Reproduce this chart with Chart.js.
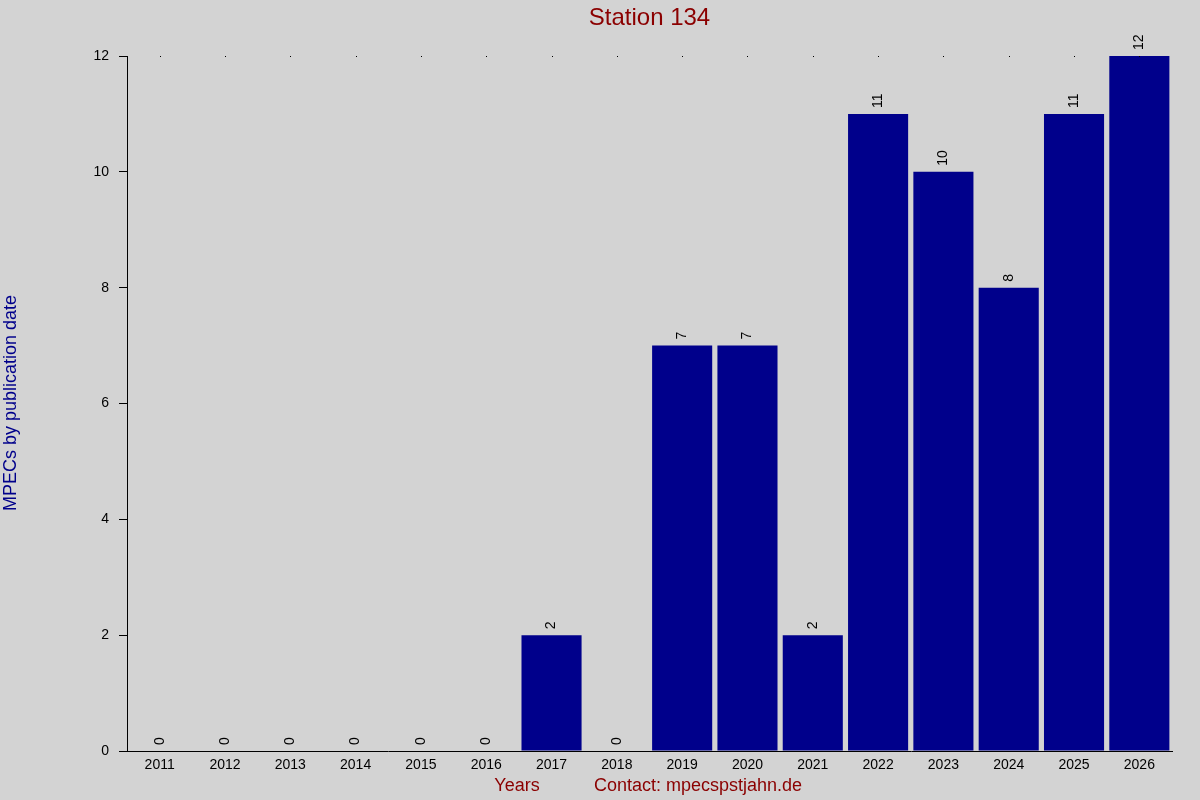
<!DOCTYPE html>
<html><head><style>html,body{margin:0;background:#d3d3d3}</style>
<script src="https://cdn.jsdelivr.net/npm/chart.js@4/dist/chart.umd.min.js"></script></head>
<body><div style="width:1200px;height:800px"><canvas id="c"></canvas></div>
<script>
const years=["2011","2012","2013","2014","2015","2016","2017","2018","2019","2020","2021","2022","2023","2024","2025","2026"];
const counts=[0,0,0,0,0,0,2,0,7,7,2,11,10,8,11,12];
const yTicks=[0,2,4,6,8,10,12];
const F='"Liberation Sans", Arial, sans-serif';
const deco={id:'deco',afterDatasetsDraw(ch){
 const c=ch.ctx,meta=ch.getDatasetMeta(0),a=ch.chartArea,y=ch.scales.y;
 c.save();c.fillStyle='#000';c.font='14px '+F;c.textAlign='left';c.textBaseline='middle';
 meta.data.forEach((b,i)=>{c.save();c.translate(b.x,b.y-6);c.rotate(-Math.PI/2);c.fillText(String(counts[i]),0,0);c.restore();
   c.fillRect(Math.round(b.x),y.getPixelForValue(12),1,1);});
 c.restore();
 c.save();c.fillStyle='#8b0000';c.font='24px '+F;c.textAlign='center';c.textBaseline='middle';
 c.fillText('Station 134',(a.left+a.right)/2,18);
 c.font='18px '+F;c.fillText('Years',517,786);c.fillText('Contact: mpecspstjahn.de',698,786);
 c.fillStyle='#00008b';c.translate(11,403);c.rotate(-Math.PI/2);c.fillText('MPECs by publication date',0,0);
 c.restore();}};
new Chart(document.getElementById('c'),{type:'bar',
 data:{labels:years,datasets:[{data:counts,backgroundColor:'#00008b',barPercentage:0.92,categoryPercentage:1}]},
 options:{responsive:true,maintainAspectRatio:false,animation:false,
  layout:{padding:{top:56,right:28,left:0,bottom:0}},
  plugins:{legend:{display:false},tooltip:{enabled:false}},
  scales:{
   x:{grid:{display:false,drawTicks:false},border:{color:'#000'},ticks:{color:'#000',font:{size:14,family:F},padding:6},afterFit(s){s.height=49;}},
   y:{min:0,max:12,afterBuildTicks(s){s.ticks=yTicks.map(v=>({value:v}));},
    grid:{drawOnChartArea:false,drawTicks:true,tickLength:8,color:'#000'},border:{color:'#000'},
    ticks:{color:'#000',font:{size:14,family:F},padding:10},afterFit(s){s.width=127;}}
  }},plugins:[deco]});
</script></body></html>
